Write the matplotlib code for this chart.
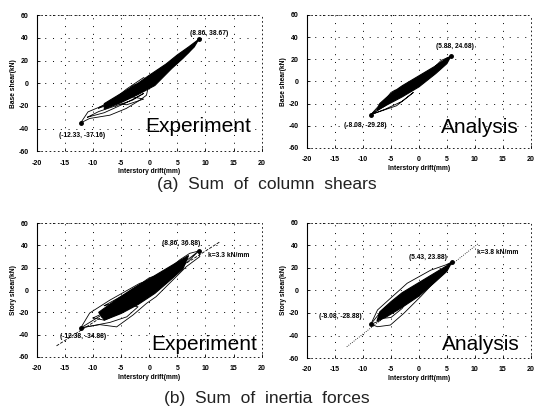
import matplotlib
matplotlib.use("Agg")
import matplotlib.pyplot as plt

plt.rcParams['font.family'] = ['Liberation Sans', 'DejaVu Sans']

# ---- (a) sum of column shears, experiment ----
a_exp_core = [(-8, -18), (-5, -9), (-2, 0), (0, 7), (3, 17), (5, 25), (7, 32), (8.8, 38.7),
              (8, 32), (6, 22), (4, 13), (1, -2), (-2, -10), (-5, -17), (-8, -23)]
a_exp_loops = [
    [(-12.2, -35), (-10.9, -25.3), (-8.8, -20.9), (-5, -12), (-2.9, -1.8), (0.1, 2.6),
     (-0.5, -10.6), (-1.7, -15), (-4.1, -22.3), (-7.0, -28.2), (-10.6, -31.1), (-12.2, -35)],
    [(-11, -30), (-9, -25), (-6, -20), (-3, -15), (-1, -9), (-4, -17), (-8, -26), (-11, -30)],
    [(-6, -18), (-3, -12), (-1, -14), (-4, -19), (-6, -18)],
    [(-9, -22), (-6, -13), (-4, -5), (-1, 5), (0, 1), (-3, -9), (-6, -17), (-9, -22)],
    [(2, 8), (5, 18), (8.8, 38.7), (7, 27), (4, 14), (2, 8)],
]
a_exp_peaks = [(8.8, 38.7), (-12.2, -35.3)]

# ---- (a) sum of column shears, analysis ----
a_ana_core = [(-7, -20), (-5, -11), (-3, -4), (0, 5), (3, 14), (5, 21), (5.7, 22.5),
              (5, 16), (3, 7), (0, -5), (-3, -14), (-6, -22), (-7.5, -26)]
a_ana_loops = [
    [(-8.6, -30), (-6.5, -20), (-5, -10), (-4.2, -7.7), (-4.5, -14), (-5.5, -20), (-8.6, -30)],
    [(-8.6, -30), (-6, -25), (-3, -18), (-1, -10), (-4, -22), (-8.6, -30)],
    [(-8.6, -30), (-7, -21), (-5.5, -15), (-6, -22), (-8.6, -30)],
    [(3, 14), (5.7, 22.5), (4, 19), (3, 14)],
]
a_ana_peaks = [(5.7, 22.5), (-8.6, -30.2)]

# ---- (b) sum of inertia forces, experiment ----
b_exp_core = [(-9, -20), (-6, -9), (-3, 1), (0, 10), (3, 19), (6, 28), (7, 31),
              (6, 19), (4, 10), (1, -3), (-2, -13), (-5, -21), (-8, -27)]
b_exp_loops = [
    [(-12.2, -34), (-10.6, -20.6), (-7.0, -9), (-1.7, 6), (1.9, 12), (5.4, 27), (7.2, 32.9),
     (8.8, 35), (9, 30), (6.6, 21), (1.2, -6), (-0.5, -12), (-2.9, -22.4), (-5.8, -33),
     (-8.8, -31), (-11.2, -33), (-12.2, -34)],
    [(-12.2, -34), (-9, -24), (-6, -16), (-4, -13), (-2, -15), (-4, -24), (-7, -29), (-12.2, -34)],
    [(2, 8), (5, 20), (8.8, 35), (7, 26), (4, 14), (2, 8)],
    [(-10, -25), (-7, -18), (-5, -20), (-8, -27), (-10, -25)],
    [(-8, -14), (-4, -3), (0, 11), (2, 14), (1, 6), (-3, -8), (-8, -14)],
]
b_exp_peaks = [(8.8, 35), (-12.2, -34)]
b_exp_kx = [-16.5, 12.5]
b_exp_ky = [-50, 43]

# ---- (b) sum of inertia forces, analysis ----
b_ana_core = [(-7, -19), (-5, -10), (-3, -2), (0, 7), (3, 16), (5, 22), (5.9, 25.3),
              (5, 17), (3, 8), (0, -5), (-3, -15), (-6, -24), (-7.5, -27)]
b_ana_loops = [
    [(-8.6, -30), (-7.4, -17.3), (-5.1, -7), (-2.1, 6.4), (2.1, 18), (4.8, 22.7), (5.9, 25.3),
     (4.5, 16.7), (0.3, -5.5), (-2.7, -20.3), (-5.1, -30.7), (-7.4, -32.2), (-8.6, -30)],
    [(-8.6, -30), (-7, -20), (-6, -15), (-5, -18), (-7, -27), (-8.6, -30)],
    [(-7, -25), (-4, -14), (-2, -8), (-3, -16), (-5, -24), (-7, -25)],
]
b_ana_peaks = [(5.9, 25.3), (-8.6, -30)]
b_ana_kx = [-12.9, 10.7]
b_ana_ky = [-50, 42]

xticks = [-20, -15, -10, -5, 0, 5, 10, 15, 20]
yticks = [-60, -40, -20, 0, 20, 40, 60]

fig = plt.figure(figsize=(5.34, 4.12), dpi=100)


def panel(rect, core, loops, peaks, ylabel, tag, tag_xy, notes, kx=None, ky=None, kstyle='--'):
    ax = fig.add_axes(rect)
    ax.set_xlim(-20, 20)
    ax.set_ylim(-60, 60)
    ax.set_xticks(xticks)
    ax.set_yticks(yticks)
    ax.set_xticklabels([str(t) for t in xticks], fontsize=5, fontweight='bold')
    ax.set_yticklabels([str(t) for t in yticks], fontsize=5, fontweight='bold')
    ax.tick_params(direction='in', length=2, width=0.6, pad=6)
    ax.grid(True, color='k', linestyle=(0, (1, 7)), linewidth=0.7)
    for side in ['top', 'right', 'bottom']:
        ax.spines[side].set_linestyle((0, (1, 4)))
        ax.spines[side].set_linewidth(0.6)
    ax.spines['left'].set_linewidth(0.8)
    if kx is not None:
        ax.plot(kx, ky, color='k', linestyle=kstyle, linewidth=0.6)
    ax.fill([p[0] for p in core], [p[1] for p in core], color='k', lw=0.8)
    for lp in loops:
        ax.plot([p[0] for p in lp], [p[1] for p in lp], color='k', lw=0.6)
    ax.plot([p[0] for p in peaks], [p[1] for p in peaks], 'o', color='k', ms=2.5)
    for txt, x, y in notes:
        ax.text(x, y, txt, fontsize=4.8, fontweight='bold', va='center', ha='left')
    ax.text(tag_xy[0], tag_xy[1], tag, fontsize=15, va='baseline', ha='left')
    ax.set_xlabel('Interstory drift(mm)', fontsize=4.8, fontweight='bold', labelpad=1)
    ax.set_ylabel(ylabel, fontsize=4.8, fontweight='bold', labelpad=1)
    return ax


panel([0.069, 0.633, 0.421, 0.330], a_exp_core, a_exp_loops, a_exp_peaks,
      'Base shear(kN)', 'Experiment', (-0.8, -43),
      [('(8.86, 38.67)', 7.2, 44), ('(-12.33, -37.16)', -16.1, -45.9)])
panel([0.575, 0.641, 0.419, 0.323], a_ana_core, a_ana_loops, a_ana_peaks,
      'Base shear(kN)', 'Analysis', (3.9, -46.7),
      [('(5.88, 24.68)', 3.0, 31.4), ('(-8.08, -29.28)', -13.4, -40.1)])
panel([0.069, 0.1335, 0.421, 0.325], b_exp_core, b_exp_loops, b_exp_peaks,
      'Story shear(kN)', 'Experiment', (0.4, -53.8),
      [('(8.86, 36.88)', 2.2, 41.8), ('k=3.3 kN/mm', 10.5, 31.3),
       ('(-12.38, -34.88)', -15.9, -41.9)],
      b_exp_kx, b_exp_ky, '--')
panel([0.575, 0.131, 0.419, 0.328], b_ana_core, b_ana_loops, b_ana_peaks,
      'Story shear(kN)', 'Analysis', (4.2, -52.9),
      [('(5.43, 23.88)', -1.8, 29.5), ('k=3.8 kN/mm', 10.4, 34),
       ('(-8.08, -28.88)', -17.9, -22.7)],
      b_ana_kx, b_ana_ky, ':')

fig.text(0.5, 1 - 185 / 412, '(a)  Sum  of  column  shears', fontsize=12.5,
         ha='center', va='center', color='#222222')
fig.text(0.5, 1 - 398 / 412, '(b)  Sum  of  inertia  forces', fontsize=12.5,
         ha='center', va='center', color='#222222')

fig.savefig('out.png', dpi=100)
